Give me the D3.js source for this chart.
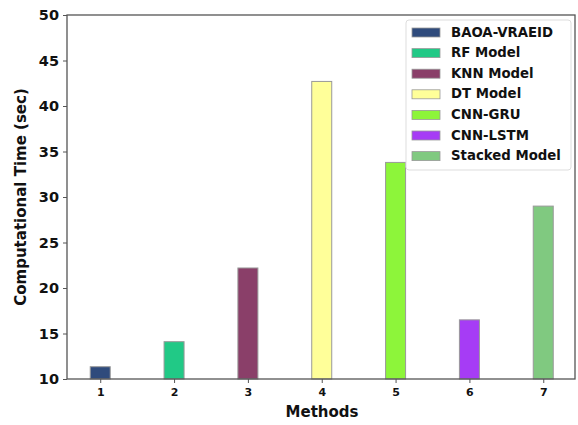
<!DOCTYPE html>
<html>
<head>
<meta charset="utf-8">
<script src="https://d3js.org/d3.v7.min.js"></script>
<style>
  body { margin: 0; background: #fff; }
  text { font-family: "DejaVu Sans", sans-serif; font-weight: bold; fill: #111; }
</style>
</head>
<body>
<div id="chart"></div>
<script>
// chart data
const methods = [1, 2, 3, 4, 5, 6, 7];
const models = ["BAOA-VRAEID", "RF Model", "KNN Model", "DT Model", "CNN-GRU", "CNN-LSTM", "Stacked Model"];
const times = [11.35, 14.1, 22.2, 42.7, 33.8, 16.5, 29.0];
const colors = ["#2f4b7c", "#21c986", "#8a3f69", "#ffff99", "#8df53a", "#a63cf5", "#80c980"];
const yTicks = [10, 15, 20, 25, 30, 35, 40, 45, 50];

const width = 578,
  height = 425;
const margin = { left: 67, right: 3, top: 15, bottom: 46 };

const svg = d3
  .select("#chart")
  .append("svg")
  .attr("width", width)
  .attr("height", height);

const x = d3
  .scaleLinear()
  .domain([0.55, 7.43])
  .range([margin.left, width - margin.right]);

const y = d3
  .scaleLinear()
  .domain([10, 50])
  .range([height - margin.bottom, margin.top]);

const barW = 20;

// bars
svg
  .selectAll("rect.bar")
  .data(times)
  .enter()
  .append("rect")
  .attr("class", "bar")
  .attr("x", (d, i) => x(methods[i]) - barW / 2)
  .attr("y", (d) => y(d))
  .attr("width", barW)
  .attr("height", (d) => y(10) - y(d))
  .attr("fill", (d, i) => colors[i])
  .attr("stroke", "#999")
  .attr("stroke-width", 1);

// frame
svg
  .append("rect")
  .attr("x", margin.left)
  .attr("y", margin.top)
  .attr("width", width - margin.left - margin.right)
  .attr("height", height - margin.top - margin.bottom)
  .attr("fill", "none")
  .attr("stroke", "#555")
  .attr("stroke-width", 1.3);

// axes
const yAxis = svg
  .append("g")
  .attr("transform", `translate(${margin.left},0)`)
  .call(d3.axisLeft(y).tickValues(yTicks).tickSize(4).tickPadding(4));
yAxis.select(".domain").remove();
yAxis.selectAll("text").style("font-size", "14.5px");
yAxis.selectAll("line").attr("stroke", "#555");

const xAxis = svg
  .append("g")
  .attr("transform", `translate(0,${height - margin.bottom})`)
  .call(d3.axisBottom(x).tickValues(methods).tickFormat(d3.format("d")).tickSize(4).tickPadding(5));
xAxis.select(".domain").remove();
xAxis.selectAll("text").style("font-size", "11px");
xAxis.selectAll("line").attr("stroke", "#555");

// axis labels
svg
  .append("text")
  .attr("x", 322)
  .attr("y", 417)
  .attr("text-anchor", "middle")
  .style("font-size", "15px")
  .text("Methods");

svg
  .append("text")
  .attr("transform", "translate(26,197) rotate(-90)")
  .attr("text-anchor", "middle")
  .style("font-size", "15px")
  .text("Computational Time (sec)");

// legend
const legend = svg.append("g").attr("transform", "translate(406,20)");
legend
  .append("rect")
  .attr("width", 165)
  .attr("height", 150)
  .attr("rx", 3)
  .attr("fill", "#fff")
  .attr("stroke", "#ddd");

const item = legend
  .selectAll("g.item")
  .data(models)
  .enter()
  .append("g")
  .attr("class", "item")
  .attr("transform", (d, i) => `translate(0,${12 + i * 20.6})`);

item
  .append("rect")
  .attr("x", 6)
  .attr("y", -4)
  .attr("width", 28)
  .attr("height", 9)
  .attr("fill", (d, i) => colors[i])
  .attr("stroke", "#999")
  .attr("stroke-width", 0.8);

item
  .append("text")
  .attr("x", 45)
  .attr("dy", "0.35em")
  .style("font-size", "13.3px")
  .text((d) => d);
</script>
</body>
</html>
